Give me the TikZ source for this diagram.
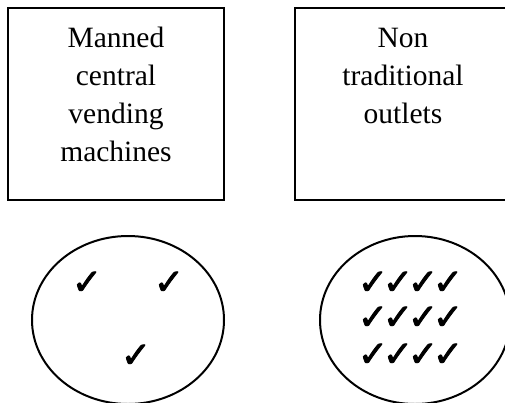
\documentclass[tikz,border=0pt]{standalone}
\usepackage{fontspec}
\setmainfont{Liberation Serif}
\newfontfamily\chkfont[FakeBold=2.2]{DejaVu Sans}
\begin{document}
\begin{tikzpicture}[x=1pt,y=-1pt,
  box/.style={draw,line width=1.8pt},
  oval/.style={draw,line width=2pt},
  lbl/.style={font=\fontsize{29.5}{38}\selectfont,align=center,anchor=base,inner sep=0pt},
  tick/.style={font=\chkfont\fontsize{36}{36}\selectfont,inner sep=0pt}]
\useasboundingbox (0,0) rectangle (505,402);
\draw[box] (8,8) rectangle (224,200);
\draw[box] (295,8) rectangle (512,200);
\node[lbl] (t1) at (116,161) {Manned\\central\\vending\\machines};
\node[lbl] (t2) at (403,123) {Non\\traditional\\outlets};
\draw[oval] (128,320) ellipse [x radius=96, y radius=84];
\draw[oval] (415,320) ellipse [x radius=95, y radius=84];
\node[tick] (a1) at (87,283) {✓};
\node[tick] (a2) at (169,283) {✓};
\node[tick] (a3) at (136,356) {✓};
\foreach \r/\yy in {1/283,2/318,3/355}{
  \foreach \c/\xx in {1/373,2/398,3/423,4/448}{
    \node[tick] (b\r\c) at (\xx,\yy) {✓};
  }
}
\end{tikzpicture}
\end{document}
